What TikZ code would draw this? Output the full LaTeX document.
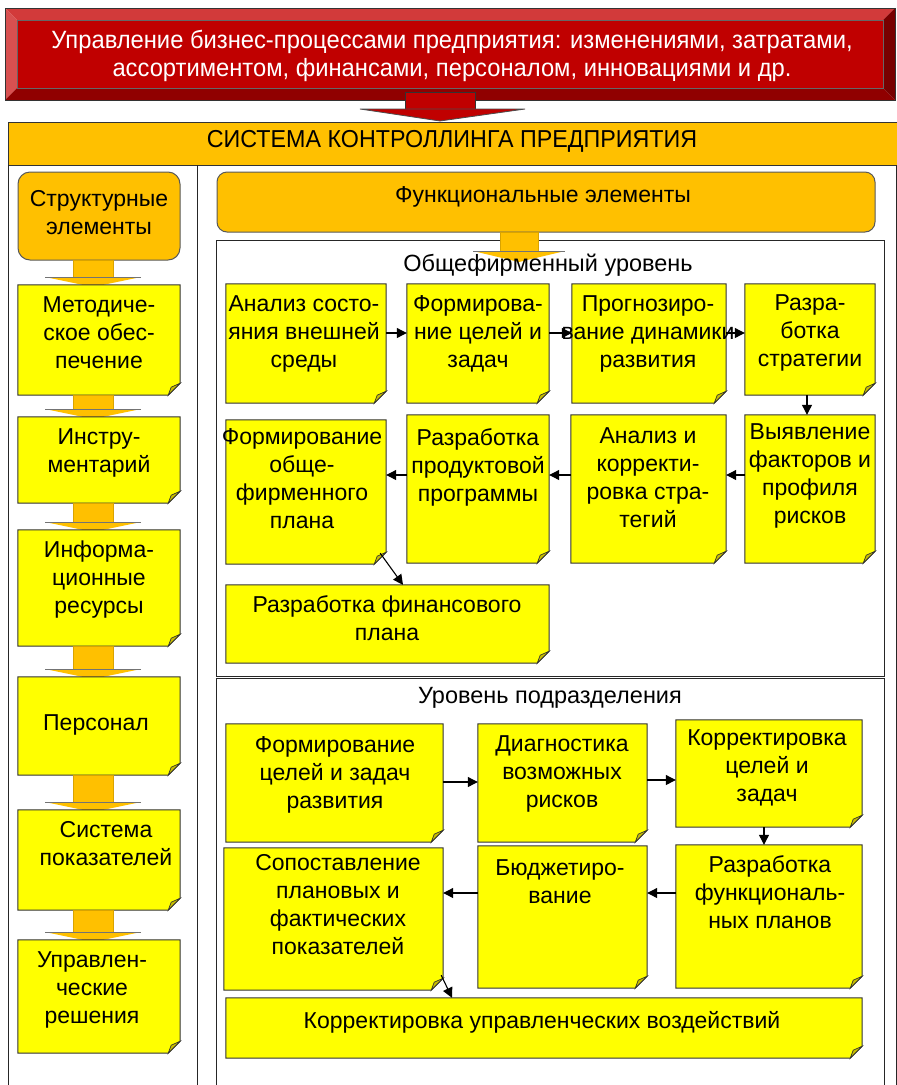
\documentclass[tikz,border=0pt]{standalone}
\usepackage{fontspec}
\setmainfont{Liberation Sans}
\newfontfamily\narrowfont[FakeStretch=0.95]{Liberation Sans}
\usetikzlibrary{fit,arrows.meta}

\definecolor{noteyellow}{HTML}{FFFF00}
\definecolor{foldolive}{HTML}{C8BE00}
\definecolor{amber}{HTML}{FFC000}
\definecolor{redface}{HTML}{C00000}
\definecolor{redlight}{HTML}{D23A3A}
\definecolor{redleft}{HTML}{D85050}
\definecolor{reddark}{HTML}{900000}
\definecolor{reddarker}{HTML}{780000}

\tikzset{
  noteedge/.style={draw=black!80, line width=1pt, fill=noteyellow},
  notefold/.style={draw=black!80, line width=0.7pt, fill=foldolive},
  notetext/.style={align=center, font=\fontsize{23}{28}\selectfont, inner sep=0pt},
  conn/.style={line width=1.1pt, -{Triangle[length=10pt,width=10pt]}},
  amberbox/.style={draw=black!65, line width=1pt, fill=amber, rounded corners=12pt},
  frameline/.style={draw=black!85, line width=1pt},
  levellabel/.style={font=\fontsize{23.5}{27}\selectfont, inner sep=0pt},
}

% sticky note: name, x1, y1, x2, y2, text x, text y, text
\newcommand\stickynote[8]{%
  \node[inner sep=0pt, fit={(#2,#3) (#4,#5)}] (#1) {};
  \draw[noteedge] (#1.north west) -- (#1.north east) -- ([yshift=12pt]#1.south east)
     -- ([xshift=-12pt]#1.south east) -- (#1.south west) -- cycle;
  \draw[notefold] ([yshift=12pt]#1.south east) -- ([xshift=-12pt]#1.south east)
     -- ([xshift=-9pt,yshift=8pt]#1.south east) -- cycle;
  \node[notetext] (#1-t) at (#6,#7) {#8};
}

% amber block arrow: x centre, y top, y tip, shaft half width, head half width, head length
\newcommand\blockarrow[6]{%
  \fill[amber, draw=amber!85!black, line width=0.6pt] (#1-#4,#2) rectangle (#1+#4,#3-#6);
  \fill[amber] (#1-#5,#3-#6) -- (#1+#5,#3-#6) -- (#1,#3) -- cycle;
  \draw[black!55, line width=1pt] (#1-#5,#3-#6) -- (#1+#5,#3-#6);
}

\begin{document}
\begin{tikzpicture}[x=1pt,y=-1pt]
\fill[white] (0,0) rectangle (897,1085);
\useasboundingbox (0,0) rectangle (897,1085);

% ---- top bevelled banner ----
\fill[redlight] (5,8) -- (895,8) -- (883,20) -- (17,20) -- cycle;
\fill[redleft] (5,8) -- (17,20) -- (17,88) -- (5,100) -- cycle;
\fill[reddark] (5,100) -- (17,88) -- (883,88) -- (895,100) -- cycle;
\fill[reddarker] (895,8) -- (895,100) -- (883,88) -- (883,20) -- cycle;
\fill[redface] (17,20) rectangle (883,88);
\draw[black!80, line width=0.8pt] (5,8) rectangle (895,100);
\draw[black!60, line width=0.5pt] (17,20) rectangle (883,88);
\node[align=center, text=white, font=\narrowfont\fontsize{25}{28}\selectfont, inner sep=0pt]
  (banner) at (452,56) {Управление бизнес-процессами предприятия: изменениями, затратами,\\
  ассортиментом, финансами, персоналом, инновациями и др.};

% red block arrow
\fill[redface, draw=black!80, line width=0.8pt] (405,92) rectangle (475,109);
\fill[redface, draw=black!70, line width=0.8pt] (360,109) -- (525,109) -- (440,121) -- cycle;

% ---- header bar ----
\fill[amber, draw=black!80, line width=1pt] (8,122) rectangle (897,165);
\node[font=\narrowfont\fontsize{24.5}{28}\selectfont, inner sep=0pt] (header) at (452,141)
  {СИСТЕМА КОНТРОЛЛИНГА ПРЕДПРИЯТИЯ};

% ---- column frames ----
\draw[frameline] (8,165) -- (8,1085);
\draw[frameline] (197,165) -- (197,1085);
\draw[frameline] (896,165) -- (896,1085);

% ---- left column: structural elements ----
\node[amberbox, inner sep=0pt, fit={(18,172) (180,260)}] (struct) {};
\node[notetext] (struct-t) at (99,213) {Структурные\\элементы};

\blockarrow{93}{260}{287}{20}{48}{10}
\stickynote{l1}{18}{285}{180}{395}{99}{333}{Методиче-\\ское обес-\\печение}
\blockarrow{93}{395}{419}{20}{48}{10}
\stickynote{l2}{18}{417}{180}{503}{99}{453}{Инстру-\\ментарий}
\blockarrow{93}{503}{532}{20}{48}{10}
\stickynote{l3}{18}{530}{180}{646}{99}{580}{Информа-\\ционные\\ресурсы}
\blockarrow{93}{646}{679}{20}{48}{10}
\stickynote{l4}{18}{677}{180}{775}{96}{725}{Персонал}
\blockarrow{93}{775}{812}{20}{48}{10}
\stickynote{l5}{18}{810}{180}{910}{106}{844}{Система\\показателей}
\blockarrow{93}{910}{942}{20}{48}{10}
\stickynote{l6}{18}{940}{180}{1053}{92}{990}{Управлен-\\ческие\\решения}

% ---- right column: functional elements ----
\node[amberbox, rounded corners=10pt, inner sep=0pt, fit={(217,172) (875,232)}] (func) {};
\node[notetext] (func-t) at (543,197) {Функциональные элементы};

% level frames
\draw[frameline] (216,240) rectangle (884,676);
\draw[frameline] (216,1085) -- (216,678) -- (884,678) -- (884,1085);

\blockarrow{519}{232}{262}{19}{46}{11}
\node[levellabel] (lvl1) at (548,265) {Общефирменный уровень};
\node[levellabel] (lvl2) at (550,698) {Уровень подразделения};

% company level, first row
\stickynote{a1}{226}{284}{386}{403}{304}{334}{Анализ состо-\\яния внешней\\среды}
\stickynote{a2}{407}{284}{549}{403}{478}{334}{Формирова-\\ние целей и\\задач}
\stickynote{a3}{572}{284}{726}{403}{648}{334}{Прогнозиро-\\вание динамики\\развития}
\stickynote{a4}{745}{284}{875}{395}{810}{333}{Разра-\\ботка\\стратегии}

% company level, second row
\stickynote{b1}{226}{420}{386}{564}{302}{479}{Формирование\\обще-\\фирменного\\плана}
\stickynote{b2}{407}{415}{549}{563}{478}{467}{Разработка\\продуктовой\\программы}
\stickynote{b3}{571}{415}{726}{563}{648}{478}{Анализ и\\корректи-\\ровка стра-\\тегий}
\stickynote{b4}{745}{415}{875}{563}{810}{476}{Выявление\\факторов и\\профиля\\рисков}

\stickynote{c}{226}{585}{549}{663}{387}{618}{Разработка финансового\\плана}

% department level
\stickynote{d1}{226}{724}{443}{842}{335}{775}{Формирование\\целей и задач\\развития}
\stickynote{d2}{478}{724}{647}{842}{562}{774}{Диагностика\\возможных\\рисков}
\stickynote{d3}{676}{720}{862}{827}{767}{768}{Корректировка\\целей и\\задач}

\stickynote{e1}{224}{848}{443}{990}{338}{905}{Сопоставление\\плановых и\\фактических\\показателей}
\stickynote{e2}{478}{846}{647}{988}{560}{882}{Бюджетиро-\\вание}
\stickynote{e3}{676}{845}{862}{988}{770}{892}{Разработка\\функциональ-\\ных планов}

\stickynote{f}{226}{998}{862}{1058}{542}{1022}{Корректировка управленческих воздействий}

% ---- connectors ----
\draw[conn] ([yshift=10.5pt]a1.east) -- ([yshift=10.5pt]a2.west);
\draw[conn] ([yshift=10.5pt]a2.east) -- ([yshift=10.5pt]a3.west);
\draw[conn] ([yshift=10.5pt]a3.east) -- ([yshift=6.5pt]a4.west);
\draw[conn] ([xshift=-3pt]a4.south) -- ([xshift=-3pt]b4.north);
\draw[conn] ([yshift=14pt]b4.west) -- ([yshift=14pt]b3.east);
\draw[conn] ([yshift=14pt]b3.west) -- ([yshift=14pt]b2.east);
\draw[conn] ([yshift=14pt]b2.west) -- ([yshift=17pt]b1.east);
\draw[conn] ([xshift=-6pt,yshift=11pt]b1.south east) -- ([xshift=15.5pt]c.north);

\draw[conn] ([yshift=1pt]d1.east) -- ([yshift=1pt]d2.west);
\draw[conn] ([yshift=3pt]d2.east) -- ([yshift=-6.5pt]d3.west);
\draw[conn] ([xshift=-5pt]d3.south) -- ([xshift=-5pt]e3.north);
\draw[conn] ([yshift=23.5pt]e3.west) -- ([yshift=24pt]e2.east);
\draw[conn] ([yshift=24pt]e2.west) -- ([yshift=26pt]e1.east);
\draw[conn] ([xshift=-2pt,yshift=15pt]e1.south east) -- ([xshift=-92pt]f.north);
\end{tikzpicture}
\end{document}
